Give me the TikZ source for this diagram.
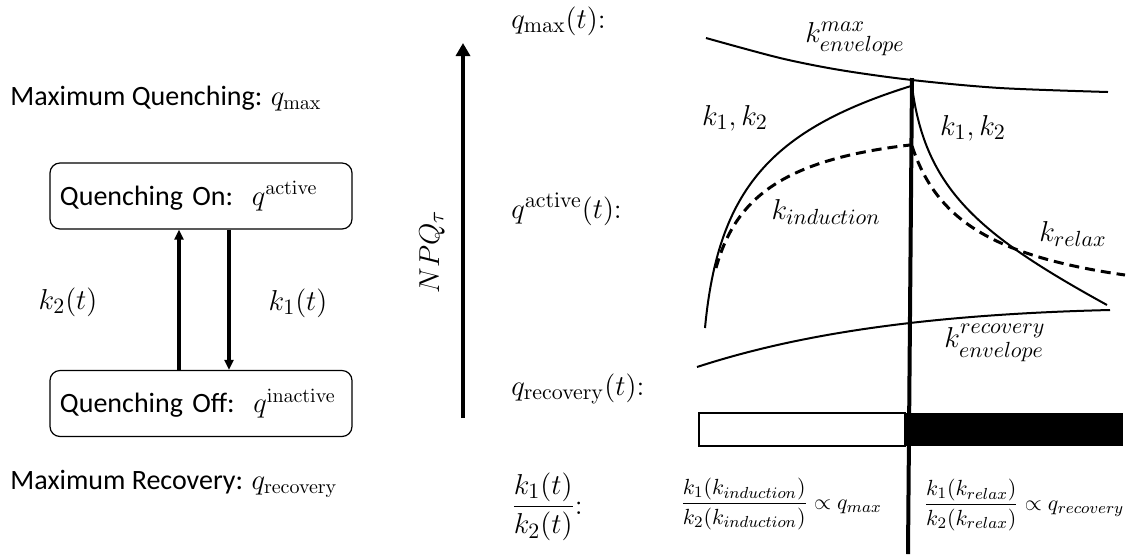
\documentclass[tikz,border=0pt]{standalone}
\usepackage{amsmath}
\usepackage{amssymb}
\usepackage[no-math]{fontspec}
\setmainfont{Carlito}
\usetikzlibrary{arrows.meta}

\begin{document}
\begin{tikzpicture}[
    x=0.5pt, y=-0.5pt,
    every node/.style={font=\fontsize{14}{16}\selectfont},
    box/.style={draw, rounded corners=5pt, line width=0.6pt, minimum height=33pt, text width=141pt, inner xsep=5pt, align=left},
    math_label/.style={font=\fontsize{15.5}{18}\selectfont},
    row_label/.style={math_label, anchor=base west, inner sep=0pt},
    flow/.style={line width=1.6pt, -{Triangle[length=5pt, width=4.5pt]}},
    axis/.style={line width=2pt, -{Triangle[length=6.5pt, width=7pt]}},
    curve/.style={line width=1pt},
    dashed_curve/.style={line width=1.5pt, dash pattern=on 5pt off 3pt},
    small_ratio/.style={font=\fontsize{11}{13}\selectfont}
]
\useasboundingbox (0,0) rectangle (1137,554);

% Zustandsmodell
\node[anchor=base west, inner sep=0pt] (qmax_text) at (10,105) {Maximum Quenching: $q_{\max}$};
\node[box] (on) at (201,196) {Quenching On:\ \ $q^{\mathrm{active}}$};
\node[box] (off) at (201,403.5) {Quenching Off:\ \ $q^{\mathrm{inactive}}$};
\node[anchor=base west, inner sep=0pt] (qrec_text) at (10,489) {Maximum Recovery: $q_{\mathrm{recovery}}$};

\coordinate (up_x) at (179,0);
\coordinate (down_x) at (229,0);
\draw[flow] (off.north -| up_x) -- (on.south -| up_x);
\draw[flow] (on.south -| down_x) -- (off.north -| down_x);
\node[math_label] (k2_label) at (68,302) {$k_2(t)$};
\node[math_label] (k1_label) at (298,303) {$k_1(t)$};

% NPQ-Achse
\coordinate (axis_start) at (463,418);
\coordinate (axis_end) at (463,43);
\draw[axis] (axis_start) -- (axis_end);
\node[math_label, rotate=90] (npq) at (432,252) {$NPQ_\tau$};

\node[row_label] (qmax_row) at (511,28) {$q_{\max}(t){:}$};
\node[row_label] (qact_row) at (511,218) {$q^{\mathrm{active}}(t){:}$};
\node[row_label] (qrec_row) at (511,395) {$q_{\mathrm{recovery}}(t){:}$};
\node[math_label, anchor=west, inner sep=0pt] (ratio_row) at (511,507) {$\dfrac{k_1(t)}{k_2(t)}{:}$};

% Kurven
\draw[curve] plot[smooth] coordinates {(706,38) (780,58) (840,70) (912,80) (1000,88) (1108,92)};
\draw[curve] (697,367) .. controls (780,340) and (900,315) .. (1110,310);
\draw[curve] (705,328) .. controls (718,190) and (770,130) .. (911,86);
\draw[curve] (912,86) .. controls (925,190) and (980,235) .. (1107,305);
\draw[dashed_curve] (716,268) .. controls (735,200) and (780,160) .. (910,145);
\draw[dashed_curve] (912,146) .. controls (935,215) and (985,255) .. (1125,275);

\node[math_label] (kmax) at (855,39) {$k^{max}_{envelope}$};
\node[math_label] (krec) at (995,343) {$k^{recovery}_{envelope}$};
\node[math_label] (k12_left) at (735,118) {$k_1, k_2$};
\node[math_label] (k12_right) at (973,128) {$k_1, k_2$};
\node[math_label] (kind) at (826,212) {$k_{induction}$};
\node[math_label] (krel) at (1073,234) {$k_{relax}$};

% Phasen
\draw[line width=0.7pt] (699,413) rectangle (905,446);
\fill (905,413) rectangle (1123,446);
\draw[line width=2pt] (912,78) -- (908,554);

\node[small_ratio] (ratio_ind) at (781,504) {$\dfrac{k_1(k_{induction})}{k_2(k_{induction})} \propto q_{max}$};
\node[small_ratio] (ratio_rel) at (1024,505) {$\dfrac{k_1(k_{relax})}{k_2(k_{relax})} \propto q_{recovery}$};

\end{tikzpicture}
\end{document}
